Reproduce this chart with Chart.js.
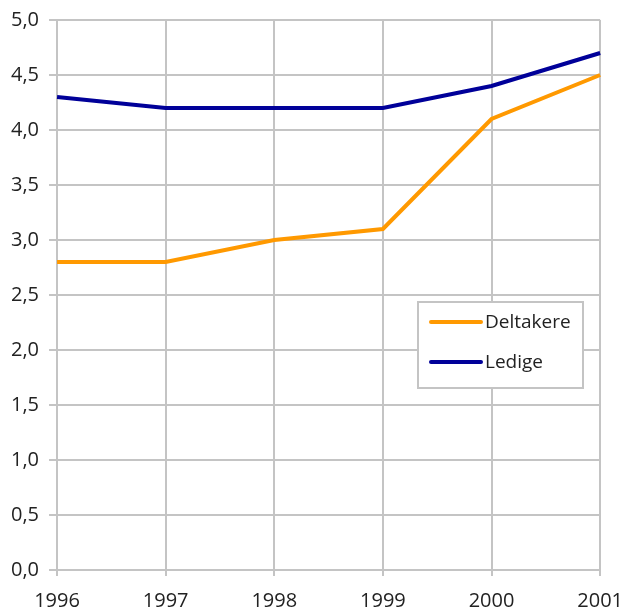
<!DOCTYPE html>
<html>
<head>
<meta charset="utf-8">
<script src="https://cdn.jsdelivr.net/npm/chart.js@4"></script>
<style>
  html, body { margin: 0; padding: 0; background: #fff; overflow: hidden; }
  #wrap { width: 636px; height: 615px; margin-top: -2px; position: relative; }
</style>
</head>
<body>
<div id="wrap"><canvas id="chart"></canvas></div>
<script>
const years = ["1996", "1997", "1998", "1999", "2000", "2001"];
const deltakere = [2.8, 2.8, 3.0, 3.1, 4.1, 4.5];
const ledige = [4.3, 4.2, 4.2, 4.2, 4.4, 4.7];

const textColor = "#222";
const gridColor = "#c4c4c4";
const fontFamily = "'Open Sans', 'Noto Sans', sans-serif";

// legend drawn as a framed box inside the plot, like the original
const boxLegend = {
  id: "boxLegend",
  afterDraw(chart) {
    const ctx = chart.ctx;
    const x = 418, y = 304, w = 165, h = 86;
    ctx.save();
    ctx.fillStyle = "#fff";
    ctx.fillRect(x, y, w, h);
    ctx.strokeStyle = gridColor;
    ctx.lineWidth = 2;
    ctx.strokeRect(x, y, w, h);
    ctx.font = "19px " + fontFamily;
    ctx.textBaseline = "middle";
    chart.data.datasets.forEach((ds, n) => {
      const ly = y + 20 + n * 40;
      ctx.strokeStyle = ds.borderColor;
      ctx.lineWidth = 4;
      ctx.lineCap = "round";
      ctx.beginPath();
      ctx.moveTo(431, ly);
      ctx.lineTo(481, ly);
      ctx.stroke();
      ctx.fillStyle = textColor;
      ctx.fillText(ds.label, 485, ly + 1);
    });
    ctx.restore();
  },
};

new Chart(document.getElementById("chart"), {
  type: "line",
  data: {
    labels: years,
    datasets: [
      { label: "Deltakere", data: deltakere, borderColor: "#ff9900", borderWidth: 4, pointRadius: 0, tension: 0 },
      { label: "Ledige", data: ledige, borderColor: "#000099", borderWidth: 4, pointRadius: 0, tension: 0 },
    ],
  },
  options: {
    responsive: true,
    maintainAspectRatio: false,
    animation: false,
    layout: { padding: { top: 17, left: 1, right: 11, bottom: -13 } },
    plugins: { legend: { display: false }, tooltip: { enabled: false } },
    scales: {
      x: {
        offset: false,
        grid: { color: gridColor, lineWidth: 2, tickLength: 6 },
        border: { display: false },
        ticks: { color: textColor, font: { family: fontFamily, size: 20 }, padding: 13, maxRotation: 0 },
      },
      y: {
        min: 0,
        max: 5,
        grid: { color: gridColor, lineWidth: 2, tickLength: 8 },
        border: { display: false },
        ticks: {
          stepSize: 0.5,
          color: textColor,
          font: { family: fontFamily, size: 20 },
          padding: 10,
          callback: (v) => v.toFixed(1).replace(".", ","),
        },
      },
    },
  },
  plugins: [boxLegend],
});
</script>
</body>
</html>
